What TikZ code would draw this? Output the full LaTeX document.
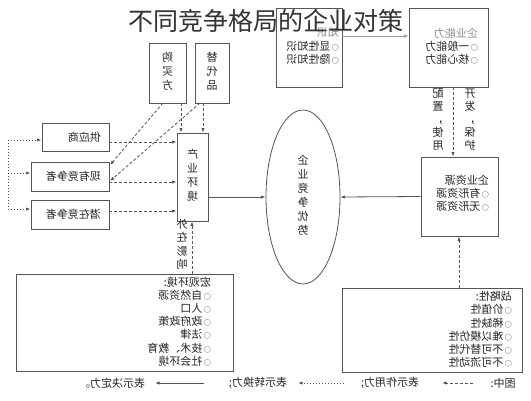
\documentclass[tikz,border=0pt]{standalone}
\usepackage{fontspec}
\usepackage{graphicx}
\setmainfont{Noto Sans CJK SC}
\usetikzlibrary{arrows.meta,shapes.geometric}
\newcommand{\mlist}[1]{\reflectbox{\begin{tabular}{@{}l@{}}#1\end{tabular}}}
\newcommand{\mcol}[1]{\reflectbox{\begin{tabular}{@{}c@{}}#1\end{tabular}}}
\newcommand{\mtxt}[1]{\reflectbox{#1}}
\newcommand{\bul}{{\fontsize{7}{7}\selectfont ○}\hspace{1.5pt}}
\definecolor{ln}{HTML}{555555}
\definecolor{tx}{HTML}{262626}
\begin{document}
\begin{tikzpicture}[x=1pt,y=-1pt,
  box/.style={draw=ln, line width=0.8pt, inner sep=0pt, fill=none},
  txt/.style={inner sep=0pt, text=tx, font=\fontsize{11}{13}\selectfont},
  vtxt/.style={inner sep=0pt, text=tx, font=\fontsize{11}{14}\selectfont},
  tip/.style={-{Latex[length=4.5pt,width=3.2pt]}},
  dsh/.style={tip, draw=ln, line width=0.8pt, dash pattern=on 3pt off 2pt},
  dot/.style={tip, draw=ln, line width=0.9pt, dash pattern=on 1pt off 2pt},
  sol/.style={tip, draw=ln, line width=0.8pt}]
\useasboundingbox (0,0) rectangle (531,400);
\fill[white] (0,0) rectangle (531,400);

% boxes
\node[box, minimum width=67pt, minimum height=28pt] (sup) at (75.5,137) {};
\node[box, minimum width=78pt, minimum height=29pt] (cur) at (70,176.5) {};
\node[box, minimum width=78pt, minimum height=29pt] (pot) at (70,214.5) {};
\node[txt, anchor=east] (suptx) at (101,137) {\mtxt{供应商}};
\node[txt, anchor=east] (curtx) at (101,176.5) {\mtxt{现有竞争者}};
\node[txt, anchor=east] (pottx) at (101,214.5) {\mtxt{潜在竞争者}};

\node[box, vtxt, minimum width=31pt, minimum height=88pt] (ind) at (192.5,177) {\mcol{产\\业\\环\\境}};
\node[box, vtxt, minimum width=37pt, minimum height=60pt] (buy) at (167.5,73) {\mcol{购\\买\\方}};
\node[box, vtxt, minimum width=34pt, minimum height=60pt] (sub) at (212,73) {\mcol{替\\代\\品}};

\node[box, minimum width=66pt, minimum height=79pt] (know) at (309,47.5) {};
\node[box, minimum width=79pt, minimum height=79pt] (cap) at (448.5,47.5) {};
\node[txt, anchor=north east] (knowtx) at (339,27.5) {\mlist{\textcolor{black!45}{知识}\\\bul 显性知识\\\bul 隐性知识}};
\node[txt, anchor=north east] (captx) at (478,27.5) {\mlist{\textcolor{black!45}{企业能力}\\\bul 一般能力\\\bul 核心能力}};

\node[draw=ln, line width=0.8pt, ellipse, minimum width=74pt, minimum height=174pt, inner sep=0pt, vtxt] (adv) at (303,197) {\mcol{企\\业\\竞\\争\\优\\势}};

\node[box, minimum width=77pt, minimum height=79pt] (res) at (459.5,196.5) {};
\node[txt, anchor=east] (restx) at (489,195) {\mlist{企业资源\\\bul 有形资源\\\bul 无形资源}};

\node[box, minimum width=180pt, minimum height=84pt] (strat) at (432,330) {};
\node[txt, anchor=east] (strattx) at (512,331) {\mlist{战略性:\\\bul 价值性\\\bul 稀缺性\\\bul 难以模仿性\\\bul 不可替代性\\\bul 不可流动性}};

\node[box, minimum width=217pt, minimum height=97pt] (macro) at (124.5,322.5) {};
\node[txt, anchor=east] (macrotx) at (211,323) {\mlist{宏观环境:\\\bul 自然资源\\\bul 人口\\\bul 政府政策\\\bul 法律\\\bul 技术、教育\\\bul 社会环境}};

% vertical labels
\node[inner sep=0pt, text=tx, font=\fontsize{11}{13.5}\selectfont] (lblout) at (182,246) {\mcol{外\\在\\影\\响}};
\node[inner sep=0pt, text=tx, font=\fontsize{11}{12.8}\selectfont] (lblcfg) at (438,121) {\mcol{配\\置\\，\\使\\用}};
\node[inner sep=0pt, text=tx, font=\fontsize{11}{12.8}\selectfont] (lbldev) at (470,121) {\mcol{开\\发\\，\\保\\护}};

% helper coordinates
\coordinate (xa) at (181,0);
\coordinate (xb) at (203,0);
\coordinate (xc) at (192,0);
\coordinate (xd) at (453,0);
\coordinate (xe) at (459,0);
\coordinate (d1s) at (163,103);
\coordinate (d1e) at (110,165);
\coordinate (d2s) at (200,103);
\coordinate (d2e) at (110,181);
\coordinate (ya) at (0,142);
\coordinate (yb) at (0,182);
\coordinate (yc) at (0,211);
\coordinate (l1) at (8,140);
\coordinate (l2) at (8,173);
\coordinate (l3) at (8,209);
\coordinate (ky) at (0,36);

% connectors
\draw[dsh] (buy.south -| xa) -- (ind.north -| xa);
\draw[dsh] (sub.south -| xb) -- (ind.north -| xb);
\draw[dsh] (d1s) -- (d1e);
\draw[dsh] (d2s) -- (d2e);
\draw[dsh] (sup.east |- ya) -- (ind.west |- ya);
\draw[dsh] (cur.east |- yb) -- (ind.west |- yb);
\draw[dsh] (pot.east |- yc) -- (ind.west |- yc);
\draw[dot, -] (l1) -- (l3);
\draw[dot] (l1) -- (sup.west |- l1);
\draw[dot] (l2) -- (cur.west |- l2);
\draw[dot] (l3) -- (pot.west |- l3);
\draw[dsh] (macro.north -| xc) -- (ind.south -| xc);
\draw[sol] (ind.east |- adv.west) -- (adv.west);
\draw[sol] (res.west) -- (adv.east);
\draw[dsh] (cap.south -| xd) -- (res.north -| xd);
\draw[dsh] (strat.north -| xe) -- (res.south -| xe);
\draw[sol, draw=black!40] (know.east |- ky) -- (cap.west |- ky);

% legend
\node[txt] (lg0) at (503,383) {\mtxt{图中:}};
\node[txt] (lg1) at (390,383) {\mtxt{表示作用力;}};
\node[txt] (lg2) at (258,383) {\mtxt{表示转换力;}};
\node[txt] (lg3) at (112,383) {\mtxt{表示决定力。}};
\coordinate (a1s) at (473,383);
\coordinate (a1e) at (442,383);
\coordinate (a2s) at (344,383);
\coordinate (a2e) at (298,383);
\coordinate (a3s) at (204,383);
\coordinate (a3e) at (155,383);
\draw[dsh] (a1s) -- (a1e);
\draw[dot] (a2s) -- (a2e);
\draw[sol] (a3s) -- (a3e);

% title
\node[inner sep=0pt, text=black!80, font=\fontsize{25}{25}\selectfont] (title) at (266,21) {不同竞争格局的企业对策};
\end{tikzpicture}
\end{document}
